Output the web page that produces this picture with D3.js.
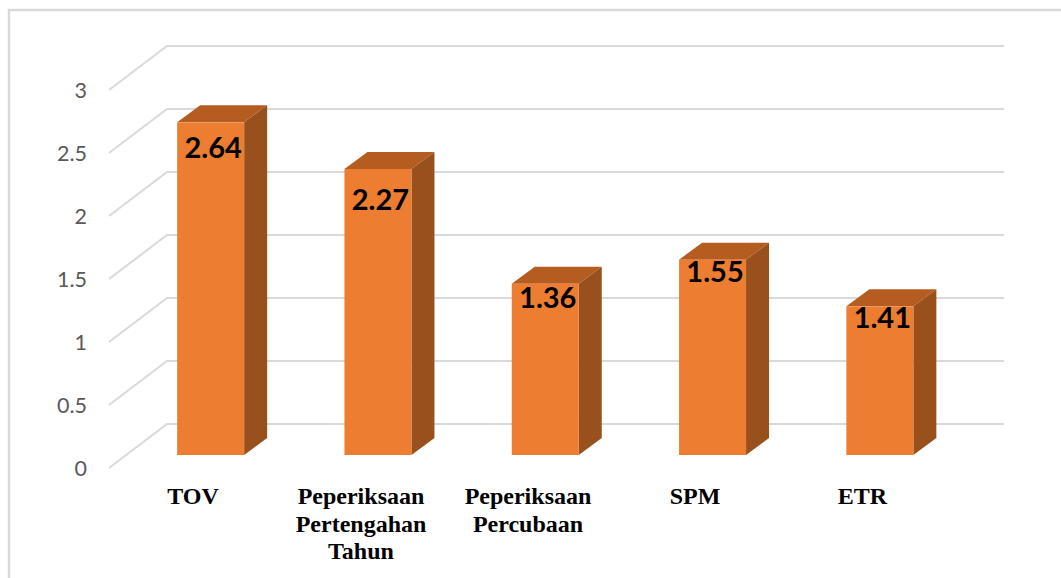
<!DOCTYPE html>
<html><head><meta charset="utf-8">
<script src="https://cdn.jsdelivr.net/npm/d3@7"></script>
<style>html,body{margin:0;padding:0;background:#fff}svg{display:block}</style>
</head><body><div id="c"></div>
<script>
const categories = [["TOV"],["Peperiksaan","Pertengahan","Tahun"],["Peperiksaan","Percubaan"],["SPM"],["ETR"]];
const barValues = [2.64,2.27,1.36,1.55,1.18];
const barLabels = ["2.64","2.27","1.36","1.55","1.41"];
const tickValues = [0,0.5,1,1.5,2,2.5,3];
const tickLabels = ["0","0.5","1","1.5","2","2.5","3"];
const labelDrop = [36,41,24,22,22];

const W=1061,H=578;
const svg=d3.select("#c").append("svg").attr("width",W).attr("height",H);
svg.append("rect").attr("x",9).attr("y",10).attr("width",W+20).attr("height",H+20)
  .attr("fill","#fff").attr("stroke","#d9d9d9").attr("stroke-width",2.5);

const wallY=d3.scaleLinear().domain([0,3]).range([424,46]);
const frontY=d3.scaleLinear().domain([0,3]).range([468,90]);
const barY=d3.scaleLinear().domain([0,3]).range([455,77]);
const x=d3.scaleBand().domain(d3.range(categories.length)).range([127,963.5]);
const barW=67,dx=23,dy=17;
const grid=svg.append("g").attr("fill","none").attr("stroke","#d9d9d9").attr("stroke-width",2);
tickValues.forEach(t=>{
  grid.append("path").attr("d",d3.line()([[109,frontY(t)],[167,wallY(t)],[1004,wallY(t)]]));
});
svg.append("g").selectAll("text").data(tickValues).join("text")
  .attr("x",87).attr("y",d=>frontY(d)+8)
  .attr("text-anchor","end").attr("fill","#595959")
  .style("font-family","Lato,'Open Sans',sans-serif").style("font-size","21.5px")
  .text((d,i)=>tickLabels[i]);

const bars=svg.append("g").selectAll("g").data(barValues).join("g");
const bx=i=>x(i)+(x.bandwidth()-barW)/2;
bars.append("path").attr("fill","#b55d20")
  .attr("d",(d,i)=>{const a=bx(i),t=barY(d);return d3.line()([[a,t],[a+dx,t-dy],[a+barW+dx,t-dy],[a+barW,t]])+"Z";});
bars.append("path").attr("fill","#98501d")
  .attr("d",(d,i)=>{const a=bx(i)+barW,t=barY(d),b=barY(0);return d3.line()([[a,t],[a+dx,t-dy],[a+dx,b-dy],[a,b]])+"Z";});
bars.append("rect").attr("fill","#ed7d31")
  .attr("x",(d,i)=>bx(i)).attr("y",d=>barY(d)).attr("width",barW).attr("height",d=>barY(0)-barY(d));
bars.append("text").attr("x",(d,i)=>bx(i)+barW/2+2.5).attr("y",(d,i)=>barY(d)+labelDrop[i])
  .attr("text-anchor","middle").attr("fill","#000").attr("font-weight","700")
  .style("font-family","Lato,'Open Sans',sans-serif").style("font-size","29px")
  .text((d,i)=>barLabels[i]);

const catX=[193,361,528,695,862.5];
svg.append("g").selectAll("text").data(categories).join("text")
  .attr("text-anchor","middle").attr("fill","#000").attr("font-weight","700")
  .style("font-family","'Liberation Serif',serif").style("font-size","24px")
  .each(function(d,i){
    d3.select(this).selectAll("tspan").data(d).join("tspan")
      .attr("x",catX[i]).attr("y",(l,j)=>504+j*27.5).text(l=>l);
  });
</script></body></html>
